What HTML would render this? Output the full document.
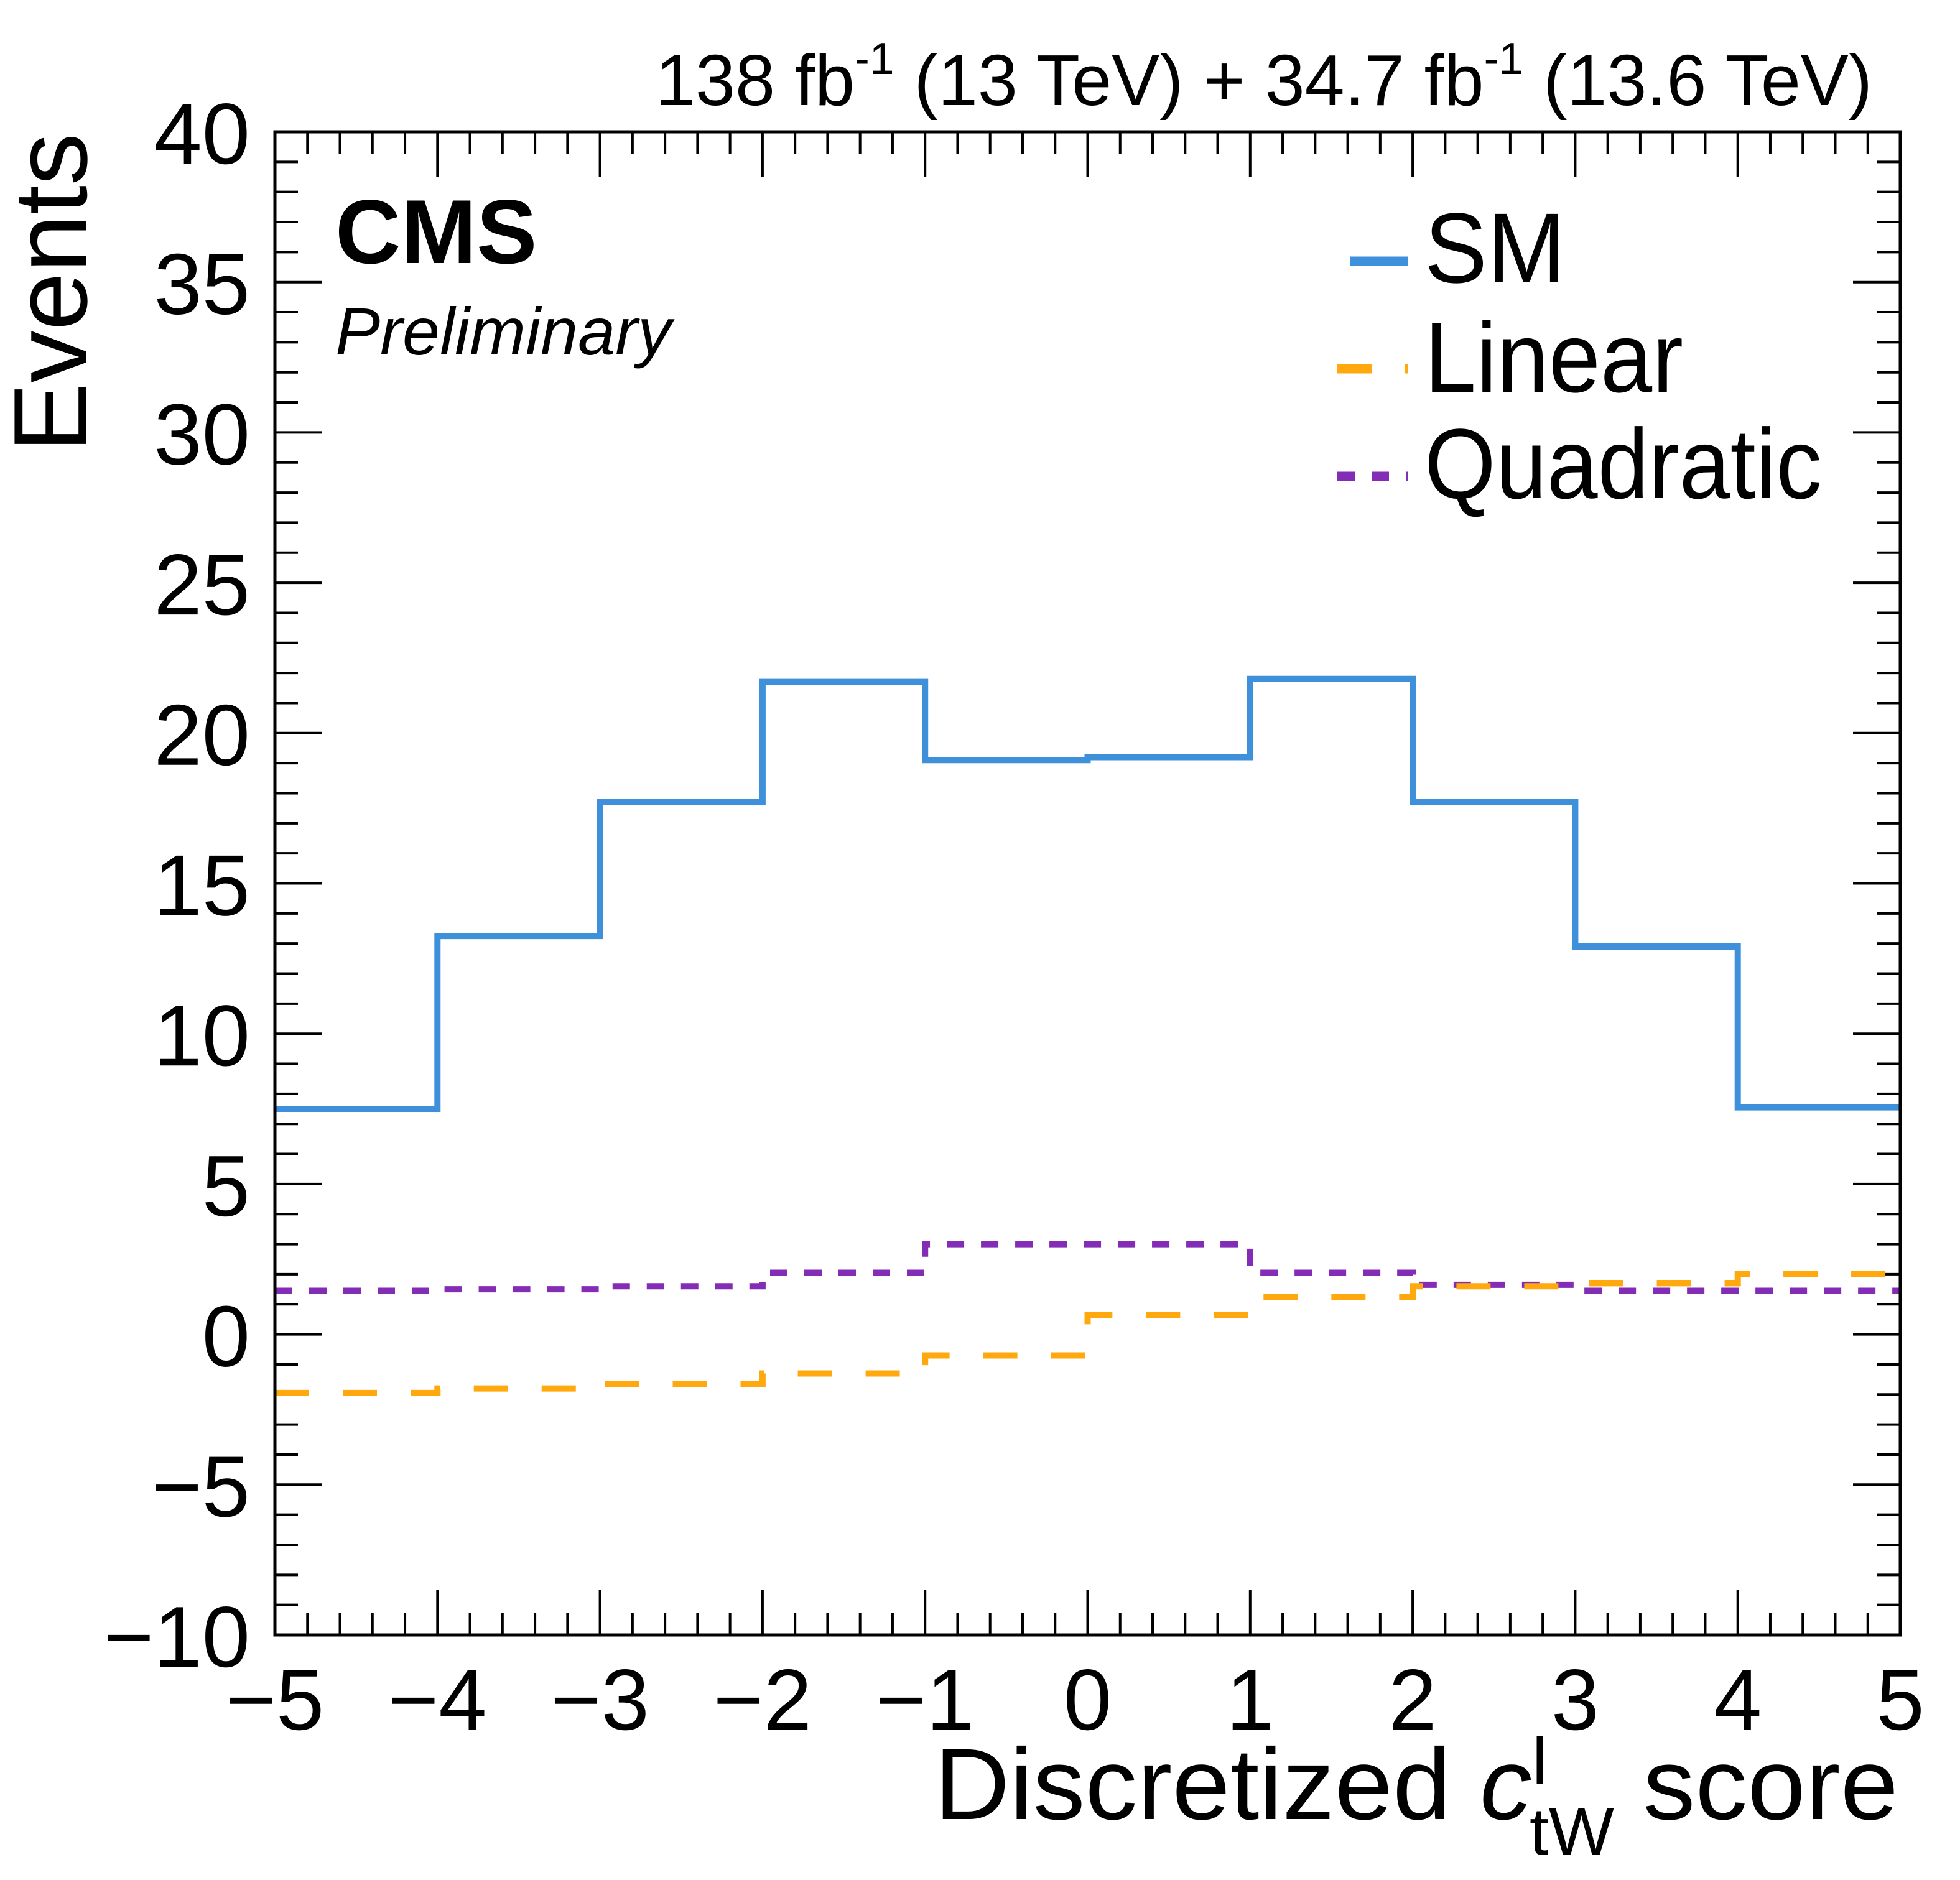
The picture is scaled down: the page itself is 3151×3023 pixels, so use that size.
<!DOCTYPE html>
<html><head><meta charset="utf-8"><style>
html,body{margin:0;padding:0;background:#fff}
svg{display:block}
text{font-family:"Liberation Sans",sans-serif;fill:#000}
</style></head><body>
<svg id="chart" width="3151" height="3023" viewBox="0 0 3151 3023" xmlns="http://www.w3.org/2000/svg">
<g id="ticks"></g>
<g id="series"></g>
<rect x="442" y="212" width="2613" height="2417" fill="none" stroke="#000" stroke-width="5"/>
<g id="labels"></g>
<text x="1054" y="169" font-size="116" textLength="1956" lengthAdjust="spacingAndGlyphs">138 fb<tspan font-size="72" dy="-50">-1</tspan><tspan dy="50"> (13 TeV) + 34.7 fb</tspan><tspan font-size="72" dy="-50">-1</tspan><tspan dy="50"> (13.6 TeV)</tspan></text>
<text x="539" y="423" font-size="146" font-weight="bold">CMS</text>
<text x="539" y="570" font-size="108" font-style="italic">Preliminary</text>
<text transform="translate(139,214) rotate(-90)" text-anchor="end" font-size="168">Events</text>
<text x="1502" y="2925" font-size="163" textLength="1550" lengthAdjust="spacingAndGlyphs">Discretized <tspan font-style="italic">c</tspan><tspan font-size="108" dy="-56">l</tspan><tspan font-size="108" dx="-28" dy="113">tW</tspan><tspan dy="-57"> score</tspan></text>
<g>
<line x1="2170" y1="420" x2="2264" y2="420" stroke="#3f90da" stroke-width="15"/>
<text x="2290" y="454" font-size="160" textLength="227" lengthAdjust="spacingAndGlyphs">SM</text>
<line x1="2150" y1="593" x2="2264" y2="593" stroke="#ffa90e" stroke-width="15" stroke-dasharray="55 54"/>
<text x="2290" y="630" font-size="160" textLength="416" lengthAdjust="spacingAndGlyphs">Linear</text>
<line x1="2150" y1="766" x2="2264" y2="766" stroke="#832db6" stroke-width="15" stroke-dasharray="28 27"/>
<text x="2290" y="801" font-size="160" textLength="639" lengthAdjust="spacingAndGlyphs">Quadratic</text>
</g>
</svg>
<script>
const binEdges = [-5,-4,-3,-2,-1,0,1,2,3,4,5];
const smValues = [7.5,13.25,17.7,21.7,19.1,19.2,21.8,17.7,12.9,7.55];
const linearValues = [-1.95,-1.8,-1.65,-1.3,-0.7,0.65,1.25,1.6,1.7,2.0];
const quadValues = [1.45,1.5,1.6,2.05,3.0,3.0,2.05,1.65,1.45,1.45];
const xTickLabels = ["\u22125","\u22124","\u22123","\u22122","\u22121","0","1","2","3","4","5"];
const yTickLabels = ["\u221210","\u22125","0","5","10","15","20","25","30","35","40"];
const yTickValues = [-10,-5,0,5,10,15,20,25,30,35,40];

const X0=442,X1=3055,Y0=2629,Y1=212;
function xs(v){return X0+(v+5)/10*(X1-X0);}
function ys(v){return Y0-(v+10)/50*(Y0-Y1);}
const NS="http://www.w3.org/2000/svg";
function mk(tag,attrs,parent){const e=document.createElementNS(NS,tag);for(const k in attrs)e.setAttribute(k,attrs[k]);parent.appendChild(e);return e;}

const tg=document.getElementById('ticks');
let td="";
for(let i=0;i<=50;i++){
  const v=-5+i*0.2, x=xs(v), L=(i%5===0)?73:36;
  td+=`M${x},${Y0}V${Y0-L}M${x},${Y1}V${Y1+L}`;
}
for(let i=0;i<=50;i++){
  const v=-10+i, y=ys(v), L=(i%5===0)?76:37;
  td+=`M${X0},${y}H${X0+L}M${X1},${y}H${X1-L}`;
}
const tp=mk('path',{d:td,stroke:'#000','stroke-width':4,fill:'none'},tg);



const lg=document.getElementById('labels');
xTickLabels.forEach((t,i)=>{
  const e=mk('text',{x:xs(binEdges[i]),y:2781,'text-anchor':'middle','font-size':139},lg);
  e.textContent=t;
  
  
});
yTickLabels.forEach((t,i)=>{
  const e=mk('text',{x:402,y:ys(yTickValues[i])+51,'text-anchor':'end','font-size':139},lg);
  e.textContent=t;
  
  
});

function stepPath(vals){
  let d=`M${xs(binEdges[0])},${ys(vals[0])}`;
  for(let i=0;i<vals.length;i++){
    if(i>0)d+=`V${ys(vals[i])}`;
    d+=`H${xs(binEdges[i+1])}`;
  }
  return d;
}
const sg=document.getElementById('series');
const q=mk('path',{d:stepPath(quadValues),fill:'none',stroke:'#832db6','stroke-width':10,'stroke-dasharray':'28 27'},sg);


const l=mk('path',{d:stepPath(linearValues),fill:'none',stroke:'#ffa90e','stroke-width':10,'stroke-dasharray':'55 54'},sg);


const s=mk('path',{d:stepPath(smValues),fill:'none',stroke:'#3f90da','stroke-width':10},sg);


</script>
</body></html>
